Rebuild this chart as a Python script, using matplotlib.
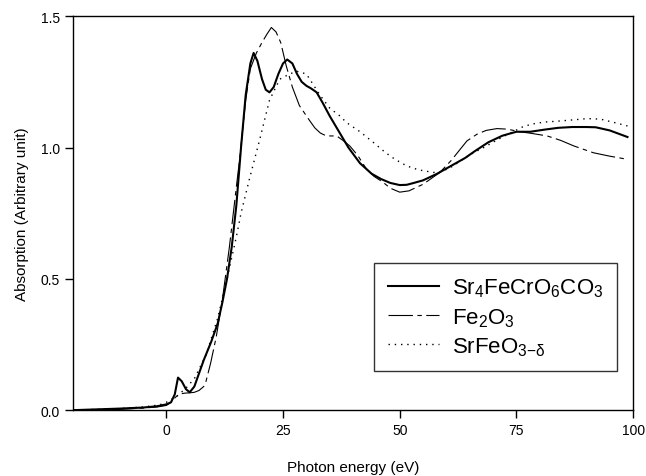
import matplotlib
matplotlib.use("Agg")
import matplotlib.pyplot as plt

# Sr4FeCrO6CO3 (solid)
sample_x = [-20, -15, -10, -5, -2, 0, 1, 1.8, 2.5, 3.3, 4.2, 5, 6, 7, 8, 9.6, 11, 12, 13, 14,
            15, 16, 17, 18, 18.7, 19.5, 20.5, 21.3, 22.1, 23, 24, 25, 25.9, 27, 28, 29, 30, 31,
            32.2, 33.5, 35, 37, 39, 41.5, 44, 46, 48, 50, 51.5, 53, 55, 58, 61, 64, 66, 69, 72,
            75, 78, 81, 84, 87, 90, 92, 95, 98.8]
sample_y = [0.0, 0.003, 0.006, 0.01, 0.015, 0.022, 0.03, 0.06, 0.124, 0.11, 0.08, 0.068, 0.09,
            0.14, 0.19, 0.26, 0.33, 0.41, 0.5, 0.62, 0.78, 1.0, 1.2, 1.32, 1.36, 1.33, 1.26, 1.22,
            1.21, 1.23, 1.28, 1.32, 1.335, 1.32, 1.28, 1.25, 1.235, 1.225, 1.21, 1.17, 1.12, 1.06,
            1.0, 0.94, 0.9, 0.88, 0.865, 0.857, 0.858, 0.865, 0.875, 0.9, 0.93, 0.96, 0.985, 1.02,
            1.045, 1.06, 1.06, 1.068, 1.075, 1.078, 1.078, 1.077, 1.065, 1.04]

# Fe2O3 (dash-dot)
fe2o3_x = [-20, -10, -5, -2, 0, 1, 2, 3, 4, 5, 6, 7, 8, 8.5, 9.5, 10.7, 12, 13.5, 15, 15.7,
           16.3, 17, 18, 19.3, 20.5, 21.5, 22.5, 23.5, 24.5, 25.7, 27, 28.5, 30.4, 31.8, 33,
           34.3, 36.5, 38, 39.3, 41, 42.9, 44.5, 46.4, 48, 50, 52, 55, 58.6, 61, 64.4, 66.5,
           68.5, 70.8, 73, 75.8, 78.5, 81.6, 84.5, 87.3, 91.5, 95, 98.8]
fe2o3_y = [0.0, 0.003, 0.008, 0.012, 0.018, 0.03, 0.05, 0.062, 0.065, 0.066, 0.068, 0.075, 0.09,
           0.11, 0.18, 0.28, 0.42, 0.62, 0.85, 0.955, 1.06, 1.18, 1.3, 1.36, 1.4, 1.43, 1.457,
           1.44, 1.4, 1.31, 1.23, 1.16, 1.11, 1.075, 1.055, 1.044, 1.044, 1.025, 1.006, 0.97,
           0.917, 0.89, 0.868, 0.845, 0.83, 0.835, 0.86, 0.905, 0.95, 1.025, 1.05, 1.065, 1.072,
           1.07, 1.06, 1.053, 1.044, 1.027, 1.006, 0.98, 0.967, 0.955]

# SrFeO3-delta (dotted)
srfeo_x = [-20, -10, -5, -1.5, 0, 2, 4, 6, 8.5, 11, 13, 15, 16, 17.8, 20, 22.1, 24.3, 26.4, 28,
           30, 32.9, 35, 37.2, 38.6, 41.5, 44.3, 47, 49, 51.5, 54, 57.2, 59, 61.5, 63.5, 65.8,
           68, 70, 72, 74.3, 76.5, 78.6, 81, 83.7, 87, 90.2, 93, 96, 98.8]
srfeo_y = [0.0, 0.006, 0.012, 0.02, 0.03, 0.05, 0.08, 0.12, 0.21, 0.35, 0.5, 0.66, 0.75, 0.88,
           1.03, 1.18, 1.26, 1.28, 1.29, 1.28, 1.2, 1.15, 1.12, 1.095, 1.06, 1.02, 0.98, 0.955,
           0.93, 0.915, 0.905, 0.908, 0.93, 0.955, 0.98, 1.0, 1.02, 1.04, 1.06, 1.08, 1.09,
           1.097, 1.10, 1.105, 1.11, 1.108, 1.095, 1.082]

x_ticks = [0, 25, 50, 75, 100]
y_ticks = [0.0, 0.5, 1.0, 1.5]

plt.rcParams['font.family'] = ['Liberation Sans', 'DejaVu Sans']
plt.rcParams['mathtext.fontset'] = 'custom'
plt.rcParams['mathtext.rm'] = 'Liberation Sans'
plt.rcParams['mathtext.it'] = 'Liberation Sans'

fig = plt.figure(figsize=(6.46, 4.77), dpi=100)
ax = fig.add_axes([0.113, 0.138, 0.867, 0.826])

ax.plot(sample_x, sample_y, color='black', lw=1.5, label='Sr$_4$FeCrO$_6$CO$_3$')
ax.plot(fe2o3_x, fe2o3_y, color='black', lw=0.8, dashes=(22, 4, 4, 4), label='Fe$_2$O$_3$')
ax.plot(srfeo_x, srfeo_y, color='black', lw=1.0, dashes=(1, 3.5), label='SrFeO$_{3\\mathrm{-}\\delta}$')

ax.set_xlim(-20, 100)
ax.set_ylim(0, 1.5)
ax.set_xticks(x_ticks)
ax.set_yticks(y_ticks)
ax.set_yticklabels(['0.0', '0.5', '1.0', '1.5'])
ax.tick_params(direction='out', length=6, width=1, labelsize=10, top=False, right=False)
for s in ax.spines.values():
    s.set_linewidth(1)

ax.set_xlabel('Photon energy (eV)', fontsize=11, labelpad=16)
ax.set_ylabel('Absorption (Arbitrary unit)', fontsize=11, labelpad=8)

leg = ax.legend(loc='lower right', bbox_to_anchor=(0.971, 0.099), borderaxespad=0, fontsize=16,
                frameon=True, fancybox=False, edgecolor='black', handlelength=2.3,
                handletextpad=0.6, borderpad=0.6, labelspacing=0.3)
leg.get_frame().set_linewidth(1)

fig.savefig('out.png', dpi=100)
